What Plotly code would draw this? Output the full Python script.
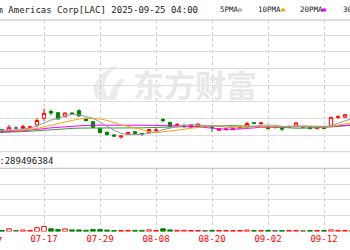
import plotly.graph_objects as go

# ---------------- data ----------------
dates = [
    "2025-07-07", "2025-07-08", "2025-07-09", "2025-07-10", "2025-07-11",
    "2025-07-14", "2025-07-15", "2025-07-16", "2025-07-17", "2025-07-18",
    "2025-07-21", "2025-07-22", "2025-07-23", "2025-07-24", "2025-07-25",
    "2025-07-28", "2025-07-29", "2025-07-30", "2025-07-31", "2025-08-01",
    "2025-08-04", "2025-08-05", "2025-08-06", "2025-08-07", "2025-08-08",
    "2025-08-11", "2025-08-12", "2025-08-13", "2025-08-14", "2025-08-15",
    "2025-08-18", "2025-08-19", "2025-08-20", "2025-08-21", "2025-08-22",
    "2025-08-25", "2025-08-26", "2025-08-27", "2025-08-28", "2025-08-29",
    "2025-09-02", "2025-09-03", "2025-09-04", "2025-09-05",
    "2025-09-08", "2025-09-09", "2025-09-10", "2025-09-11", "2025-09-12",
    "2025-09-15", "2025-09-16", "2025-09-17", "2025-09-18",
]
open_ = [2.65, 2.62, 2.659, 2.641, 2.71, 2.695, 2.731, 2.80, 3.001, 3.205,
         3.169, 3.049, 3.16, 3.229, 3.001, 2.899, 2.701, 2.581, 2.50, 2.44,
         2.521, 2.599, 2.545, 2.569, 2.635, 2.965, 2.881, 2.80, 2.755, 2.731,
         2.761, 2.74, 2.755, 2.641, 2.665, 2.659, 2.689, 2.761, 2.869, 2.845,
         2.761, 2.725, 2.695, 2.731, 2.761, 2.731, 2.731, 2.689, 2.719,
         2.791, 3.031, 3.031, 3.13]
high = [2.68, 2.665, 2.68, 2.80, 2.77, 2.809, 2.779, 3.01, 3.295, 3.265,
        3.19, 3.175, 3.175, 3.271, 3.01, 2.92, 2.71, 2.605, 2.53, 2.479,
        2.59, 2.611, 2.56, 2.671, 2.701, 3.01, 2.89, 2.86, 2.839, 2.80,
        2.845, 2.761, 2.77, 2.695, 2.71, 2.695, 2.74, 2.89, 2.89, 2.89,
        2.77, 2.749, 2.731, 2.77, 2.89, 2.746, 2.74, 2.74, 2.731,
        3.04, 3.091, 3.13, 3.19]
low = [2.59, 2.59, 2.56, 2.626, 2.68, 2.68, 2.701, 2.725, 2.92, 3.091,
       2.965, 3.04, 3.13, 3.055, 2.92, 2.719, 2.56, 2.485, 2.449, 2.395,
       2.515, 2.539, 2.479, 2.56, 2.599, 2.881, 2.749, 2.761, 2.71, 2.725,
       2.755, 2.71, 2.59, 2.635, 2.629, 2.65, 2.68, 2.755, 2.83, 2.809,
       2.68, 2.689, 2.629, 2.725, 2.755, 2.716, 2.68, 2.68, 2.689,
       2.785, 2.989, 3.025, 3.04]
close = [2.62, 2.635, 2.59, 2.731, 2.71, 2.755, 2.743, 2.935, 3.151, 3.16,
         2.98, 3.16, 3.139, 3.07, 2.929, 2.731, 2.569, 2.515, 2.47, 2.47,
         2.575, 2.551, 2.515, 2.665, 2.65, 2.935, 2.755, 2.815, 2.785, 2.791,
         2.83, 2.74, 2.725, 2.689, 2.68, 2.689, 2.731, 2.845, 2.851, 2.86,
         2.689, 2.725, 2.68, 2.761, 2.86, 2.731, 2.689, 2.731, 2.701,
         3.031, 3.049, 3.109, 3.07]
volume_m = [8, 7, 6, 17, 7, 9, 7, 24, 32, 17,
            12, 16, 10, 10, 8, 12, 12, 9, 6, 6,
            7, 7, 7, 10, 6, 17, 10, 7, 8, 6,
            6, 6, 7, 6, 6, 6, 6, 9, 6, 6,
            7, 6, 6, 6, 7, 5, 6, 6, 6,
            10, 7, 7, 8]
ma5 = [2.635, 2.632, 2.626, 2.644, 2.657, 2.684, 2.706, 2.775, 2.859, 2.949,
       2.994, 3.077, 3.118, 3.102, 3.056, 3.006, 2.888, 2.763, 2.643, 2.551,
       2.520, 2.516, 2.516, 2.555, 2.591, 2.663, 2.704, 2.764, 2.788, 2.816,
       2.795, 2.792, 2.774, 2.755, 2.733, 2.705, 2.703, 2.727, 2.759, 2.795,
       2.795, 2.794, 2.761, 2.743, 2.743, 2.751, 2.744, 2.754, 2.742,
       2.777, 2.840, 2.924, 2.992]
ma10 = [2.62, 2.62, 2.62, 2.626, 2.635, 2.65, 2.665, 2.695, 2.746, 2.803,
        2.839, 2.892, 2.946, 2.980, 3.002, 3.000, 2.982, 2.940, 2.872, 2.803,
        2.763, 2.702, 2.640, 2.599, 2.571, 2.592, 2.610, 2.640, 2.672, 2.704,
        2.729, 2.748, 2.769, 2.772, 2.775, 2.750, 2.748, 2.751, 2.757, 2.764,
        2.750, 2.748, 2.744, 2.751, 2.769, 2.773, 2.769, 2.758, 2.743,
        2.760, 2.796, 2.834, 2.873]
ma20 = [2.575, 2.581, 2.59, 2.602, 2.614, 2.629, 2.644, 2.665, 2.692, 2.716,
        2.734, 2.752, 2.767, 2.779, 2.788, 2.794, 2.797, 2.80, 2.803, 2.803,
        2.801, 2.797, 2.793, 2.790, 2.787, 2.796, 2.796, 2.790, 2.772, 2.754,
        2.746, 2.725, 2.704, 2.685, 2.673, 2.671, 2.679, 2.695, 2.714, 2.734,
        2.739, 2.748, 2.757, 2.761, 2.772, 2.762, 2.758, 2.754, 2.750,
        2.762, 2.773, 2.791, 2.808]
ma30 = [2.56, 2.566, 2.572, 2.581, 2.59, 2.602, 2.614, 2.629, 2.647, 2.662,
        2.674, 2.686, 2.698, 2.707, 2.713, 2.716, 2.716, 2.713, 2.71, 2.707,
        2.71, 2.713, 2.716, 2.722, 2.728, 2.737, 2.746, 2.755, 2.764, 2.77,
        2.777, 2.781, 2.785, 2.784, 2.783, 2.781, 2.780, 2.777, 2.767, 2.757,
        2.747, 2.733, 2.718, 2.707, 2.705, 2.705, 2.709, 2.716, 2.724,
        2.742, 2.758, 2.777, 2.796]
tick_dates = ["2025-07-17", "2025-07-29", "2025-08-08", "2025-08-20", "2025-09-02", "2025-09-12"]
tick_labels = ["07-17", "07-29", "08-08", "08-20", "09-02", "09-12"]
offscreen_label = "07-07"
title_text = "Lithium Americas Corp[LAC] 2025-09-25 04:00"
vol_label = "VOL:289496384"
ma_names = ["5PMA", "10PMA", "20PMA", "30PMA"]
watermark = "东方财富"

# ---------------- style ----------------
W, H = 350, 250
RED = "#ff0000"
GREEN = "#008000"
GRAY_CANDLE = "#666666"
MA_COLORS = ["#9a9a9a", "#f5a414", "#ff00ff", "#3a9a3a"]
MONO = "DejaVu Sans Mono"


def px_x(v):
    return v / W


def px_y(v):
    return 1 - v / H


fig = go.Figure()

n = len(dates)
up = [i for i in range(n) if close[i] > open_[i]]
dn = [i for i in range(n) if close[i] < open_[i]]
fl = [i for i in range(n) if close[i] == open_[i]]


def pick(seq, idx):
    return [seq[i] for i in idx]


for idx, line_c, fill_c in [(up, RED, "white"), (dn, GREEN, GREEN), (fl, GRAY_CANDLE, GRAY_CANDLE)]:
    if not idx:
        continue
    fig.add_trace(go.Candlestick(
        x=pick(dates, idx), open=pick(open_, idx), high=pick(high, idx),
        low=pick(low, idx), close=pick(close, idx),
        increasing=dict(line=dict(color=line_c, width=1), fillcolor=fill_c),
        decreasing=dict(line=dict(color=line_c, width=1), fillcolor=fill_c),
        whiskerwidth=0, xaxis="x2", yaxis="y2", hoverinfo="skip",
    ))

for vals, col in zip([ma30, ma20, ma10, ma5], MA_COLORS[::-1]):
    fig.add_trace(go.Scatter(x=dates, y=vals, mode="lines",
                             line=dict(color=col, width=1),
                             xaxis="x2", yaxis="y2", hoverinfo="skip"))

for idx, line_c, fill_c in [(up, RED, "white"), (dn, GREEN, GREEN), (fl, GRAY_CANDLE, GRAY_CANDLE)]:
    if not idx:
        continue
    fig.add_trace(go.Bar(x=pick(dates, idx), y=pick(volume_m, idx),
                         marker=dict(color=fill_c, line=dict(color=line_c, width=1)),
                         xaxis="x", yaxis="y", hoverinfo="skip"))

xcommon = dict(type="category", categoryorder="array", categoryarray=dates,
               range=[1.714, 51.714], tickvals=tick_dates, ticktext=tick_labels,
               showgrid=True, gridcolor="#cccccc", gridwidth=1, griddash="3px,3px",
               zeroline=False, showline=False, ticks="",
               rangeslider=dict(visible=False), fixedrange=True)

fig.update_layout(
    width=W, height=H, margin=dict(l=0, r=0, t=0, b=0),
    paper_bgcolor="white", plot_bgcolor="white", showlegend=False,
    bargap=0.35, boxgap=0.32,
    xaxis=dict(anchor="y", domain=[0, 1],
               tickfont=dict(family=MONO, size=9, color=RED), **xcommon),
    xaxis2=dict(anchor="y2", domain=[0, 1], showticklabels=False, **xcommon),
    yaxis=dict(domain=[px_y(231.5), px_y(168.3)], range=[0, 400],
               tickvals=[100, 200, 300], showticklabels=False,
               gridcolor="#dddddd", gridwidth=1, zeroline=False, fixedrange=True),
    yaxis2=dict(domain=[px_y(151.7), px_y(20)], range=[2.0, 5.95],
                tickvals=[2.5, 3.0, 3.5, 4.0, 4.5, 5.0, 5.5], showticklabels=False,
                gridcolor="#dddddd", gridwidth=1, zeroline=False, fixedrange=True),
)

shapes = []
# panel borders
for py, col in [(20, "#bdbdbd"), (151.7, "#d0d0d0"), (168.3, "#bbbbbb")]:
    shapes.append(dict(type="line", xref="paper", yref="paper", x0=0, x1=1,
                       y0=px_y(py), y1=px_y(py), line=dict(color=col, width=1)))
# legend colour keys
for x0, col in [(238, "#b5b5b5"), (281, MA_COLORS[1]), (322, MA_COLORS[2])]:
    shapes.append(dict(type="rect", xref="paper", yref="paper",
                       x0=px_x(x0), x1=px_x(x0 + 4), y0=px_y(11.5), y1=px_y(8.5),
                       fillcolor=col, line=dict(width=0)))
# watermark logo (decoration)
logo_pts = [(96, 99), (93, 88), (99, 76), (112, 67), (118, 66), (108, 75), (104, 85), (106, 94), (111, 100)]
path = "M " + " L ".join(f"{px_x(a):.4f},{px_y(b):.4f}" for a, b in logo_pts) + " Z"
shapes.append(dict(type="path", xref="paper", yref="paper", path=path,
                   fillcolor="#ececec", line=dict(width=0), layer="below"))
logo2 = [(108, 100), (112, 88), (121, 78), (125, 80), (118, 90), (116, 100)]
path2 = "M " + " L ".join(f"{px_x(a):.4f},{px_y(b):.4f}" for a, b in logo2) + " Z"
shapes.append(dict(type="path", xref="paper", yref="paper", path=path2,
                   fillcolor="#ececec", line=dict(width=0), layer="below"))
fig.update_layout(shapes=shapes)

ann = []
ann.append(dict(text=watermark, xref="paper", yref="paper", x=px_x(194.5), y=px_y(83),
                showarrow=False, xanchor="center", yanchor="middle",
                font=dict(family="Noto Sans CJK SC", size=31, color="#e8e8e8", weight="bold")))
ann.append(dict(text=title_text, xref="paper", yref="paper", x=px_x(-37.5), y=px_y(10),
                showarrow=False, xanchor="left", yanchor="middle",
                font=dict(family=MONO, size=9, color="#222222")))
for name, xl in zip(ma_names, [218, 256, 298, 341]):
    ann.append(dict(text=name, xref="paper", yref="paper", x=px_x(xl), y=px_y(9.5),
                    showarrow=False, xanchor="left", yanchor="middle",
                    font=dict(family=MONO, size=7.5, color="#222222")))
ann.append(dict(text=vol_label, xref="paper", yref="paper", x=px_x(-18.8), y=px_y(160.5),
                showarrow=False, xanchor="left", yanchor="middle",
                font=dict(family=MONO, size=9, color="#222222")))
ann.append(dict(text=offscreen_label, xref="paper", yref="paper", x=px_x(-12), y=px_y(240.5),
                showarrow=False, xanchor="center", yanchor="middle",
                font=dict(family=MONO, size=9, color=RED)))
fig.update_layout(annotations=ann)

fig.write_html("out.html")
